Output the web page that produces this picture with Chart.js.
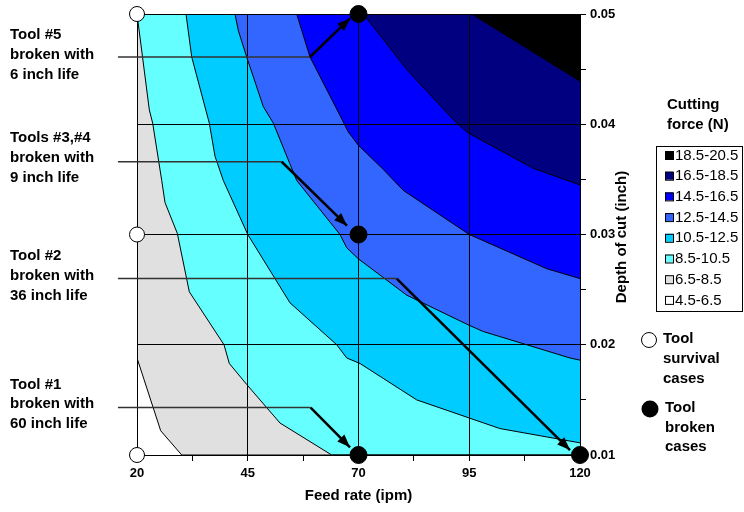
<!DOCTYPE html>
<html>
<head>
<meta charset="utf-8">
<script src="https://cdn.jsdelivr.net/npm/chart.js@4.4.1/dist/chart.umd.min.js"></script>
<style>
  html, body { margin: 0; padding: 0; background: #ffffff; }
  #wrap { width: 744px; height: 512px; position: relative; }
</style>
</head>
<body>
<div id="wrap"><canvas id="c"></canvas></div>
<script>
// ---------- data ----------
const feedTicks = [20, 45, 70, 95, 120];
const depthTicks = [0.01, 0.02, 0.03, 0.04, 0.05];

// contour boundaries (feed rate, depth of cut) : lower edge of each force band
const b6_5  = [[20, 0.0188], [25.35, 0.0122], [30.1, 0.01]];
const b8_5  = [[20, 0.05], [22.78, 0.0413], [23.54, 0.0401], [25.58, 0.0349], [26.32, 0.0329], [29.1, 0.0301], [31.81, 0.0248], [39.64, 0.0200], [40.84, 0.0183], [44.76, 0.0164], [52.28, 0.0129], [63.95, 0.01]];
const b10_5 = [[31.06, 0.05], [32.35, 0.0461], [36.32, 0.0401], [37.61, 0.0371], [39.48, 0.0349], [45, 0.0300], [51.15, 0.0260], [54.54, 0.0238], [65.08, 0.0200], [67.34, 0.0188], [70.34, 0.0183], [83.14, 0.0150], [101.9, 0.0124], [120, 0.0111]];
const b12_5 = [[42.12, 0.05], [42.87, 0.0485], [44.76, 0.0461], [48.51, 0.0416], [50.77, 0.0401], [56.05, 0.0349], [65.82, 0.0300], [67.34, 0.0288], [69.95, 0.0278], [80.88, 0.0245], [94.79, 0.0218], [98.17, 0.0212], [107.97, 0.0200], [117.74, 0.0188], [120, 0.0186]];
const b14_5 = [[56.05, 0.05], [59.05, 0.0461], [65.82, 0.0408], [67.7, 0.0393], [69.95, 0.0381], [75.6, 0.0359], [80.11, 0.0340], [95, 0.0300], [112.48, 0.0269], [120, 0.0260]];
const b16_5 = [[71.08, 0.05], [81.24, 0.0448], [92.17, 0.0401], [94.79, 0.0392], [109.46, 0.0360], [120, 0.0345]];
const b18_5 = [[95.55, 0.05], [120, 0.0439]];

const bandLabels = ['18.5-20.5', '16.5-18.5', '14.5-16.5', '12.5-14.5', '10.5-12.5', '8.5-10.5', '6.5-8.5', '4.5-6.5'];
const bandColors = ['#000000', '#000080', '#0000FF', '#3366FF', '#00CCFF', '#66FFFF', '#E0E0E0', '#FFFFFF'];

// tool test cases
const survivalFeed  = [20, 20, 20];
const survivalDepth = [0.05, 0.03, 0.01];
const brokenFeed    = [70, 70, 70, 120];
const brokenDepth   = [0.05, 0.03, 0.01, 0.01];

// callouts: leader (horizontal) and arrow segments
const leader5  = [[15.7, 0.0461], [59.05, 0.0461]];
const arrow5   = [[59.05, 0.0461], [68.08, 0.0496]];
const leader34 = [[15.7, 0.0366], [52.66, 0.0366]];
const arrow34  = [[52.66, 0.0366], [67.4, 0.0308]];
const leader2  = [[15.7, 0.0260], [78.62, 0.0260]];
const arrow2   = [[78.62, 0.0260], [117.74, 0.01045]];
const leader1  = [[15.7, 0.0143], [59.2, 0.0143]];
const arrow1   = [[59.2, 0.0143], [68.08, 0.0107]];

const calloutText = [
  ['Tool #5', 'broken with', '6 inch life'],
  ['Tools #3,#4', 'broken with', '9 inch life'],
  ['Tool #2', 'broken with', '36 inch life'],
  ['Tool #1', 'broken with', '60 inch life']
];

// ---------- build ----------
const FONT = '"Liberation Sans", Arial, Helvetica, sans-serif';
Chart.defaults.font.family = FONT;
Chart.defaults.color = '#000';

function toPts(arr) { return arr.map(p => ({x: p[0], y: p[1]})); }
function bandPts(arr) {
  const pts = toPts(arr);
  const last = arr[arr.length - 1];
  if (last[0] < 120) pts.push({x: 120, y: last[1]});
  return pts;
}
const boundaries = [b6_5, b8_5, b10_5, b12_5, b14_5, b16_5, b18_5];
// fill color = band above each boundary
const fillCols = ['#E0E0E0', '#66FFFF', '#00CCFF', '#3366FF', '#0000FF', '#000080', '#000000'];

const datasets = [];
boundaries.forEach((b, i) => {
  datasets.push({
    type: 'line', data: bandPts(b), fill: 'end', backgroundColor: fillCols[i],
    borderColor: '#000', borderWidth: 1, pointRadius: 0, tension: 0, order: 20 - i
  });
});
[[leader5, arrow5], [leader34, arrow34], [leader2, arrow2], [leader1, arrow1]].forEach(pair => {
  datasets.push({ type: 'line', data: toPts(pair[0]), borderColor: '#333', borderWidth: 1.5, pointRadius: 0, fill: false, clip: false, order: 5 });
  datasets.push({ type: 'line', data: toPts(pair[1]), borderColor: '#000', borderWidth: 2.5, pointRadius: 0, fill: false, clip: false, order: 4, isArrow: true });
});
datasets.push({ type: 'scatter', data: survivalFeed.map((x, i) => ({x, y: survivalDepth[i]})),
  pointRadius: 7.5, pointBackgroundColor: '#fff', pointBorderColor: '#000', pointBorderWidth: 1, clip: false, order: 1 });
datasets.push({ type: 'scatter', data: brokenFeed.map((x, i) => ({x, y: brokenDepth[i]})),
  pointRadius: 8.5, pointBackgroundColor: '#000', pointBorderColor: '#000', pointBorderWidth: 1, clip: false, order: 1 });

function isMajor(v, step) { return Math.abs(v / step - Math.round(v / step)) < 1e-6; }

const overlay = {
  id: 'overlay',
  afterDatasetsDraw(chart) {
    const ctx = chart.ctx;
    chart.data.datasets.forEach((ds, i) => {
      if (!ds.isArrow) return;
      const pts = chart.getDatasetMeta(i).data;
      const a = pts[pts.length - 2], b = pts[pts.length - 1];
      const ang = Math.atan2(b.y - a.y, b.x - a.x);
      const L = 13, W = 5;
      ctx.save();
      ctx.fillStyle = '#000';
      ctx.beginPath();
      ctx.moveTo(b.x, b.y);
      ctx.lineTo(b.x - L * Math.cos(ang) + W * Math.sin(ang), b.y - L * Math.sin(ang) - W * Math.cos(ang));
      ctx.lineTo(b.x - L * Math.cos(ang) - W * Math.sin(ang), b.y - L * Math.sin(ang) + W * Math.cos(ang));
      ctx.closePath();
      ctx.fill();
      ctx.restore();
    });
  },
  afterDraw(chart) {
    const ctx = chart.ctx;
    ctx.save();
    ctx.fillStyle = '#000';
    ctx.textBaseline = 'middle';
    ctx.textAlign = 'left';
    ctx.font = 'bold 15px ' + FONT;
    const blockY = [[35, 55, 75], [138, 158, 178], [256, 276, 296], [385, 404, 424]];
    calloutText.forEach((lines, k) => lines.forEach((t, j) => ctx.fillText(t, 10, blockY[k][j])));

    // legend title
    ctx.fillText('Cutting', 667, 105);
    ctx.fillText('force (N)', 667, 125);
    // legend box
    ctx.strokeStyle = '#000';
    ctx.lineWidth = 1;
    ctx.strokeRect(656.5, 146.5, 86, 165);
    ctx.font = '15px ' + FONT;
    bandLabels.forEach((lab, i) => {
      const y = 155 + i * 20.7;
      ctx.fillStyle = bandColors[i];
      ctx.fillRect(665, y - 4, 8, 8);
      ctx.strokeStyle = '#000';
      ctx.strokeRect(665.5, y - 3.5, 8, 8);
      ctx.fillStyle = '#000';
      ctx.fillText(lab, 675, y + 0.5);
    });
    // marker legend
    ctx.font = 'bold 15px ' + FONT;
    ctx.beginPath(); ctx.arc(649, 340, 7.5, 0, Math.PI * 2);
    ctx.fillStyle = '#fff'; ctx.fill(); ctx.strokeStyle = '#000'; ctx.stroke();
    ctx.fillStyle = '#000';
    ['Tool', 'survival', 'cases'].forEach((t, j) => ctx.fillText(t, 663, 339 + j * 20));
    ctx.beginPath(); ctx.arc(650, 409, 8.5, 0, Math.PI * 2); ctx.fill();
    ['Tool', 'broken', 'cases'].forEach((t, j) => ctx.fillText(t, 665, 408 + j * 19.5));

    // y-axis title (reads bottom to top)
    ctx.translate(622, 237);
    ctx.rotate(-Math.PI / 2);
    ctx.textAlign = 'center';
    ctx.fillText('Depth of cut (inch)', 0, 0);
    ctx.restore();
  }
};

new Chart(document.getElementById('c'), {
  type: 'line',
  data: { datasets },
  options: {
    responsive: true, maintainAspectRatio: false, animation: false, events: [],
    layout: { padding: { left: 137, top: 14, right: 0, bottom: 0 } },
    plugins: { legend: { display: false }, tooltip: { enabled: false }, filler: { drawTime: 'beforeDraw' } },
    scales: {
      x: {
        type: 'linear', position: 'bottom', min: feedTicks[0], max: feedTicks[feedTicks.length - 1],
        afterFit(s) { s.height = 57; },
        afterBuildTicks(s) {
          const t = [];
          for (let i = 0; i < feedTicks.length; i++) {
            t.push({value: feedTicks[i]});
            if (i < feedTicks.length - 1) t.push({value: (feedTicks[i] + feedTicks[i + 1]) / 2});
          }
          s.ticks = t;
        },
        ticks: {
          font: { size: 13, weight: 'bold' }, padding: 5, maxRotation: 0, autoSkip: false,
          callback: v => feedTicks.includes(v) ? String(v) : ''
        },
        grid: {
          color: c => (c.tick && feedTicks.includes(c.tick.value)) ? '#000' : 'rgba(0,0,0,0)',
          tickColor: '#000', tickLength: 6, lineWidth: 1
        },
        border: { color: '#000', width: 1 },
        title: { display: true, text: 'Feed rate (ipm)', font: { size: 15, weight: 'bold' }, padding: { top: 0, bottom: 7 } }
      },
      y: {
        type: 'linear', position: 'right', min: depthTicks[0], max: depthTicks[depthTicks.length - 1],
        afterFit(s) { s.width = 164; },
        afterBuildTicks(s) {
          const t = [];
          for (let i = 0; i < depthTicks.length; i++) {
            t.push({value: depthTicks[i]});
            if (i < depthTicks.length - 1) t.push({value: (depthTicks[i] + depthTicks[i + 1]) / 2});
          }
          s.ticks = t;
        },
        ticks: {
          font: { size: 13, weight: 'bold' }, padding: 4, autoSkip: false,
          callback: v => isMajor(v, 0.01) ? v.toFixed(2) : ''
        },
        grid: {
          color: c => (c.tick && isMajor(c.tick.value, 0.01)) ? '#000' : 'rgba(0,0,0,0)',
          tickColor: '#000', tickLength: 6, lineWidth: 1
        },
        border: { color: '#000', width: 1 }
      }
    }
  },
  plugins: [overlay]
});
</script>
</body>
</html>
